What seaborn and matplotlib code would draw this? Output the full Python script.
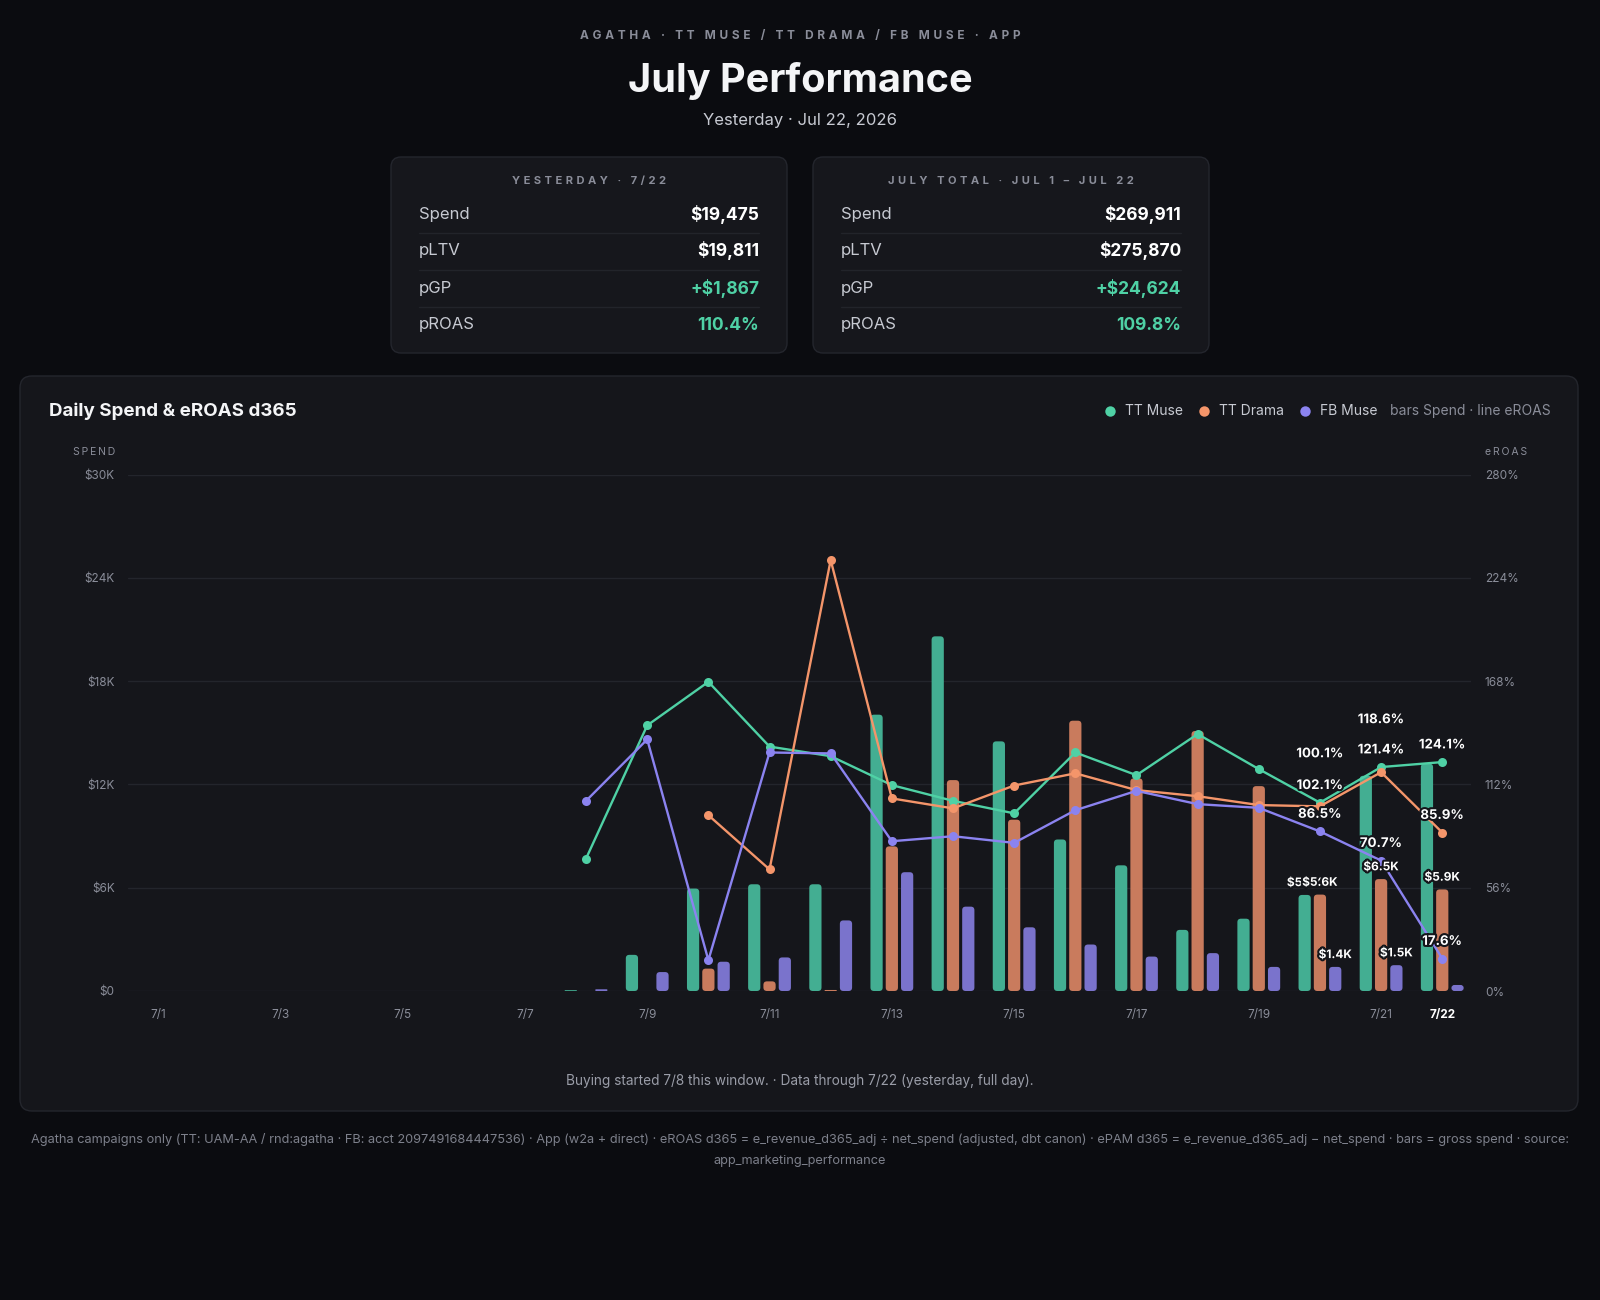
import numpy as np
import pandas as pd
import seaborn as sns
import matplotlib.pyplot as plt
import matplotlib.patheffects as pe
from matplotlib.patches import FancyBboxPatch
from matplotlib.lines import Line2D

# ---- data ----
days = ["7/1", "7/2", "7/3", "7/4", "7/5", "7/6", "7/7", "7/8", "7/9", "7/10", "7/11",
        "7/12", "7/13", "7/14", "7/15", "7/16", "7/17", "7/18", "7/19", "7/20", "7/21", "7/22"]
channels = ["TT Muse", "TT Drama", "FB Muse"]
N = None

# daily spend ($), None = no buying
tt_muse_spend = [N, N, N, N, N, N, N, 50, 2100, 5950, 6200, 6200, 16050, 20600, 14500,
                 8800, 7300, 3550, 4200, 5580, 12500, 13200]
tt_drama_spend = [N, N, N, N, N, N, N, N, N, 1300, 560, 60, 8400, 12250, 9950,
                  15700, 12350, 15100, 11900, 5600, 6500, 5900]
fb_muse_spend = [N, N, N, N, N, N, N, 100, 1100, 1700, 1950, 4100, 6900, 4900, 3700,
                 2700, 2000, 2200, 1400, 1400, 1500, 350]

# eROAS d365 (%)
tt_muse_eroas = [N, N, N, N, N, N, N, 71.8, 144.0, 167.6, 132.5, 127.3, 111.6, 103.1, 96.3,
                 129.3, 117.0, 139.3, 120.3, 102.1, 121.4, 124.1]
tt_drama_eroas = [N, N, N, N, N, N, N, N, N, 95.3, 65.9, 233.6, 104.4, 99.0, 111.4,
                  118.0, 108.9, 105.6, 100.8, 100.1, 118.6, 85.9]
fb_muse_eroas = [N, N, N, N, N, N, N, 103.1, 136.4, 16.7, 129.3, 128.8, 81.2, 83.9, 80.3,
                 98.0, 108.5, 101.3, 99.3, 86.5, 70.7, 17.6]

spend_ticks = [0, 6000, 12000, 18000, 24000, 30000]
eroas_ticks = [0, 56, 112, 168, 224, 280]

yesterday_rows = [("Spend", "$19,475"), ("pLTV", "$19,811"), ("pGP", "+$1,867"), ("pROAS", "110.4%")]
july_rows = [("Spend", "$269,911"), ("pLTV", "$275,870"), ("pGP", "+$24,624"), ("pROAS", "109.8%")]

label_days = ["7/20", "7/21", "7/22"]

# ---- style ----
BG = "#0b0c10"
PANEL = "#15161b"
BORDER = "#24262d"
GRID = "#23252c"
MUTED = "#8a8d99"
LIGHT = "#c7cad2"
GREEN_TXT = "#4fd1a5"
line_colors = {"TT Muse": "#4fd1a5", "TT Drama": "#f4956a", "FB Muse": "#8b83f0"}
bar_colors = {"TT Muse": "#43ae92", "TT Drama": "#c97b5d", "FB Muse": "#7a73cc"}

sns.set_theme(style="dark")
plt.rcParams["font.family"] = ["Inter", "DejaVu Sans"]

W, H = 1600, 1300
fig = plt.figure(figsize=(W / 100, H / 100), dpi=100, facecolor=BG)


def fx(x):
    return x / W


def fy(y):
    return 1 - y / H


def spaced(s, gap="\u2009"):
    return gap.join(s)


def rbox(x0, y0, x1, y1, r, fc, ec):
    p = FancyBboxPatch((fx(x0), fy(y1)), (x1 - x0) / W, (y1 - y0) / H,
                       boxstyle=f"round,pad=0,rounding_size={r / W}",
                       mutation_aspect=W / H, transform=fig.transFigure,
                       fc=fc, ec=ec, lw=1, zorder=-5)
    fig.add_artist(p)


# ---- header ----
fig.text(0.5, fy(36), spaced("AGATHA · TT MUSE / TT DRAMA / FB MUSE · APP", "\u2009\u2009"),
         ha="center", va="center", color=MUTED, fontsize=8.5, fontweight="bold")
fig.text(0.5, fy(81), "July Performance", ha="center", va="center", color="#f4f5f7",
         fontsize=28.5, fontweight="bold")
fig.text(0.5, fy(120), "Yesterday · Jul 22, 2026", ha="center", va="center", color=LIGHT, fontsize=12)

# ---- KPI cards ----
for x0, head, rows in [(391, "YESTERDAY · 7/22", yesterday_rows),
                       (813, "JULY TOTAL · JUL 1 – JUL 22", july_rows)]:
    x1 = x0 + 396
    rbox(x0, 157, x1, 353, 10, "#16171c", BORDER)
    fig.text(fx((x0 + x1) / 2), fy(181), spaced(head, "\u2009\u2009"), ha="center", va="center",
             color=MUTED, fontsize=8, fontweight="bold")
    for k, (lab, val) in enumerate(rows):
        yy = 214 + k * 37
        fig.text(fx(x0 + 28), fy(yy), lab, ha="left", va="center", color=LIGHT, fontsize=12)
        vc = GREEN_TXT if lab in ("pGP", "pROAS") else "#ffffff"
        fig.text(fx(x1 - 28), fy(yy), val, ha="right", va="center", color=vc, fontsize=12.5,
                 fontweight="bold")
        if k < 3:
            fig.add_artist(Line2D([fx(x0 + 28), fx(x1 - 28)], [fy(yy + 18.5)] * 2,
                                  color="#22242a", lw=1, transform=fig.transFigure))

# ---- chart panel ----
rbox(20, 376, 1578, 1111, 12, PANEL, BORDER)
fig.text(fx(49), fy(411), "Daily Spend & eROAS d365", ha="left", va="center", color="#f4f5f7",
         fontsize=13.5, fontweight="bold")

fig.text(fx(1551), fy(411), "bars Spend · line eROAS", ha="right", va="center", color=MUTED, fontsize=10)
for dot_x, ch in [(1110, "TT Muse"), (1204, "TT Drama"), (1305, "FB Muse")]:
    fig.add_artist(Line2D([fx(dot_x)], [fy(411)], marker="o", ms=7.5, mew=0, ls="none",
                          color=line_colors[ch], transform=fig.transFigure))
    fig.text(fx(dot_x + 15), fy(411), ch, ha="left", va="center", color=LIGHT, fontsize=10)

fig.text(fx(115), fy(452), spaced("SPEND"), ha="right", va="center", color=MUTED, fontsize=7.5)
fig.text(fx(1485), fy(452), spaced("eROAS"), ha="left", va="center", color=MUTED, fontsize=7.5)

# ---- axes ----
AX_L, AX_R, AX_T, AX_B = 128, 1471, 474.5, 991
ax = fig.add_axes([fx(AX_L), fy(AX_B), (AX_R - AX_L) / W, (AX_B - AX_T) / H])
ax.set_facecolor("none")

spend_df = pd.DataFrame({
    "day": days * 3,
    "channel": np.repeat(channels, len(days)),
    "spend": pd.to_numeric(pd.Series(tt_muse_spend + tt_drama_spend + fb_muse_spend), errors="coerce"),
})
sns.barplot(data=spend_df.dropna(), x="day", y="spend", hue="channel", order=days, hue_order=channels,
            palette=bar_colors, width=0.75, gap=0.2, errorbar=None, saturation=1, legend=False, ax=ax)

XMIN, XMAX = -0.49, 21.47
ax.set_xlim(XMIN, XMAX)
ax.set_ylim(0, 30000)

# rounded bar corners
px_day = (AX_R - AX_L) / (XMAX - XMIN)
px_dollar = (AX_B - AX_T) / 30000
for bar in list(ax.patches):
    x, y = bar.get_x(), bar.get_y()
    w, h = bar.get_width(), bar.get_height()
    if not np.isfinite(h) or h <= 0:
        bar.remove()
        continue
    r = min(3.5, h * px_dollar / 2, w * px_day / 2)
    fc = bar.get_facecolor()
    bar.remove()
    ax.add_patch(FancyBboxPatch((x, y), w, h, boxstyle=f"round,pad=0,rounding_size={r / px_day}",
                                mutation_aspect=px_day / px_dollar, fc=fc, ec="none", zorder=2))

ax.set_yticks(spend_ticks)
ax.set_yticklabels(["$0" if v == 0 else f"${v // 1000}K" for v in spend_ticks])
ax.set_xticks(range(len(days)))
ax.set_xticklabels([d if (i % 2 == 0 or i == len(days) - 1) else "" for i, d in enumerate(days)])
ax.tick_params(axis="y", length=0, pad=9.5, labelcolor=MUTED, labelsize=8.5)
ax.tick_params(axis="x", length=0, pad=13, labelcolor=MUTED, labelsize=8.5)
last = ax.get_xticklabels()[-1]
last.set_color("#ffffff")
last.set_fontweight("bold")
ax.yaxis.grid(True, color=GRID, lw=1)
ax.xaxis.grid(False)
ax.set_axisbelow(True)
ax.set_xlabel("")
ax.set_ylabel("")
for s in ax.spines.values():
    s.set_visible(False)

ax2 = ax.twinx()
roas_df = pd.DataFrame({
    "idx": list(range(len(days))) * 3,
    "channel": np.repeat(channels, len(days)),
    "eroas": pd.to_numeric(pd.Series(tt_muse_eroas + tt_drama_eroas + fb_muse_eroas), errors="coerce"),
}).dropna()
sns.lineplot(data=roas_df, x="idx", y="eroas", hue="channel", hue_order=channels, palette=line_colors,
             marker="o", markersize=6.5, markeredgewidth=0, linewidth=1.7, errorbar=None,
             legend=False, ax=ax2)
ax2.set_ylim(0, 280)
ax2.set_xlim(XMIN, XMAX)
ax2.set_yticks(eroas_ticks)
ax2.set_yticklabels([f"{v}%" for v in eroas_ticks])
ax2.tick_params(axis="y", length=0, pad=10, labelcolor=MUTED, labelsize=8.5)
ax2.grid(False)
ax2.set_ylabel("")
ax2.set_xlabel("")
for s in ax2.spines.values():
    s.set_visible(False)

# ---- value labels on the last days ----
stroke = [pe.withStroke(linewidth=3, foreground=PANEL)]
spend_series = {"TT Muse": tt_muse_spend, "TT Drama": tt_drama_spend, "FB Muse": fb_muse_spend}
eroas_series = {"TT Muse": tt_muse_eroas, "TT Drama": tt_drama_eroas, "FB Muse": fb_muse_eroas}
# labels that collide with an eROAS label are dropped, as in the dashboard
hidden_spend = {("TT Muse", "7/21"), ("TT Muse", "7/22"), ("FB Muse", "7/22")}
bumped_pct = {("TT Drama", "7/20"), ("TT Drama", "7/21")}

for d in label_days:
    i = days.index(d)
    for k, ch in enumerate(channels):
        v = spend_series[ch][i]
        if v is None or (ch, d) in hidden_spend:
            continue
        ax2.annotate(f"${v / 1000:.1f}K", xy=(i + (k - 1) * 0.25, v), xycoords=ax.transData,
                     xytext=(0, 8.5), textcoords="offset points", ha="center", va="center",
                     color="#ffffff", fontsize=8.5, fontweight="bold", path_effects=stroke,
                     zorder=6, annotation_clip=False)
for d in label_days:
    i = days.index(d)
    for ch in channels:
        v = eroas_series[ch][i]
        if v is None:
            continue
        off = 37.5 if (ch, d) in bumped_pct else 12
        ax2.annotate(f"{v:.1f}%", xy=(i, v), xytext=(0, off), textcoords="offset points",
                     ha="center", va="center", color="#ffffff", fontsize=9.5, fontweight="bold",
                     path_effects=stroke, zorder=7, annotation_clip=False)

# ---- notes ----
fig.text(0.5, fy(1081), "Buying started 7/8 this window. · Data through 7/22 (yesterday, full day).",
         ha="center", va="center", color="#9a9da8", fontsize=9.8)
fig.text(0.5, fy(1140),
         "Agatha campaigns only (TT: UAM-AA / rnd:agatha · FB: acct 2097491684447536) · App (w2a + direct) · "
         "eROAS d365 = e_revenue_d365_adj ÷ net_spend (adjusted, dbt canon) · ePAM d365 = e_revenue_d365_adj "
         "− net_spend · bars = gross spend · source:",
         ha="center", va="center", color="#7d808b", fontsize=9.2)
fig.text(0.5, fy(1161), "app_marketing_performance", ha="center", va="center", color="#7d808b", fontsize=9.2)

fig.savefig("out.png", dpi=100, facecolor=BG)
